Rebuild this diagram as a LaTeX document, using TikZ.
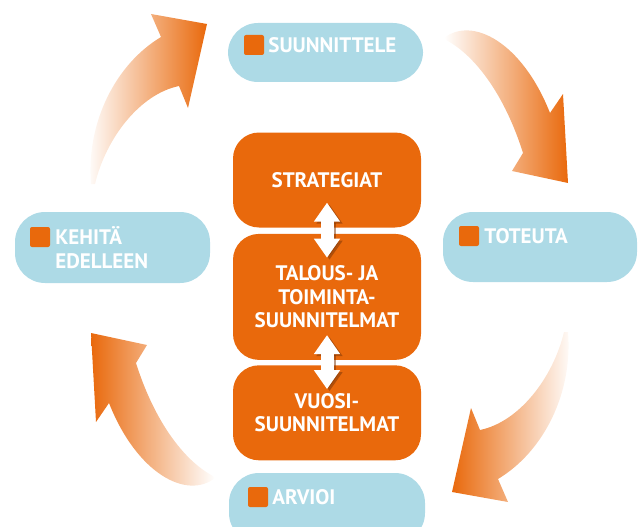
\documentclass[tikz,border=0pt]{standalone}
\usepackage{fontspec}
\setmainfont{PT Sans}
\usetikzlibrary{positioning,calc,arrows.meta}

\definecolor{oranssi}{RGB}{233,105,12}
\definecolor{sininen}{RGB}{173,218,230}
\definecolor{varjo}{RGB}{120,52,8}

\tikzset{
  teksti/.style={font=\bfseries\fontsize{21pt}{23.5pt}\selectfont, text=white},
  pilleri/.style={fill=sininen, rounded corners=30pt, inner sep=0pt},
  laatikko/.style={teksti, fill=oranssi, rounded corners=26pt, minimum width=188pt,
    minimum height=95pt, align=center, inner sep=0pt},
  merkki/.style={fill=oranssi, rounded corners=2pt, minimum size=20pt, inner sep=0pt},
  otsikko/.style={teksti, align=left, inner sep=0pt, anchor=base west},
  nuoli/.style={line width=13pt, draw=white,
    {Triangle[width=25pt,length=19pt]}-{Triangle[width=25pt,length=19pt]}},
  nuolivarjo/.style={nuoli, draw=varjo, opacity=.5, transform canvas={shift={(2.5pt,-2pt)}}}
}

\begin{document}
\begin{tikzpicture}[x=1pt, y=-1pt]
  \clip (0,0) rectangle (640,527);

  % Kaarinuolet
  \foreach \kulma/\vasen/\oikea in {0/white/oranssi, 180/oranssi/white} {
    \begin{scope}[rotate around={\kulma:(329.5,258)}]
      \shade[left color=\vasen, right color=\oikea]
        (91,184) .. controls (86,122) and (116,64) .. (161,37)
        -- (151,14) -- (207,24) -- (188,108) -- (179,86)
        .. controls (140,94) and (106,138) .. (95,184) -- cycle;
      \shade[left color=\vasen, right color=\oikea]
        (444,38) .. controls (472,16) and (522,42) .. (550,113)
        -- (563,94) -- (568,183) -- (512,171) -- (523,153)
        .. controls (505,96) and (476,56) .. (446,40) -- cycle;
    \end{scope}
  }

  % Vaiheet
  \node[pilleri, minimum width=195pt, minimum height=59pt] (suunn) at (325.5,52.5) {};
  \node[pilleri, minimum width=195pt, minimum height=71pt] (kehita) at (112.5,247.5) {};
  \node[pilleri, minimum width=194pt, minimum height=70pt] (toteuta) at (540,247) {};
  \node[pilleri, minimum width=196pt, minimum height=70pt] (arvioi) at (327,508) {};

  \node[merkki, below right=12pt and 16pt of suunn.north west] (suunnm) {};
  \node[merkki, below right=15pt and 15pt of kehita.north west] (kehitam) {};
  \node[merkki, below right=14pt and 16pt of toteuta.north west] (toteutam) {};
  \node[merkki, below right=14pt and 19pt of arvioi.north west] (arvioim) {};

  \node[otsikko] (suunnt) at ([xshift=4pt, yshift=2.5pt]suunnm.south east) {SUUNNITTELE};
  \node[otsikko] (kehitat) at ([xshift=5pt, yshift=-21pt]kehitam.south east) {KEHITÄ\\EDELLEEN};
  \node[otsikko] (toteutat) at ([xshift=5pt, yshift=2.5pt]toteutam.south east) {TOTEUTA};
  \node[otsikko] (arvioit) at ([xshift=4pt, yshift=2.5pt]arvioim.south east) {ARVIOI};

  % Suunnitelmat
  \node[laatikko] (strat) at (327,180) {STRATEGIAT};
  \node[laatikko, minimum height=126pt, below=6pt of strat] (talous)
    {TALOUS- JA\\TOIMINTA-\\SUUNNITELMAT};
  \node[laatikko, below=5pt of talous] (vuosi) {VUOSI-\\SUUNNITELMAT};

  \foreach \a/\b in {strat/talous, talous/vuosi} {
    \draw[nuolivarjo] ([yshift=25pt]\a.south) -- ([yshift=-24pt]\b.north);
    \draw[nuoli] ([yshift=25pt]\a.south) -- ([yshift=-24pt]\b.north);
  }
\end{tikzpicture}
\end{document}
